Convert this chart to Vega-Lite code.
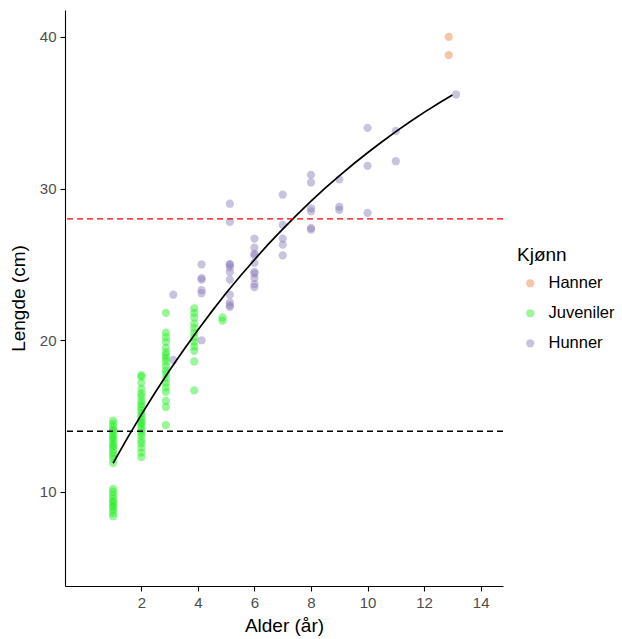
{
  "$schema": "https://vega.github.io/schema/vega-lite/v6.json",
  "width": 438,
  "height": 576,
  "autosize": {"type": "none"},
  "padding": {"left": 65, "top": 10, "right": 119, "bottom": 53},
  "background": "white",
  "config": {
    "view": {"stroke": null},
    "font": "Liberation Sans",
    "axis": {
      "grid": false,
      "domainColor": "#000000",
      "domainWidth": 1.1,
      "tickColor": "#000000",
      "tickWidth": 1.1,
      "tickSize": 5,
      "labelFont": "Liberation Sans",
      "labelFontSize": 15,
      "labelColor": "#4d4d4d",
      "labelPadding": 4,
      "titleFont": "Liberation Sans",
      "titleFontSize": 19,
      "titleFontWeight": "normal",
      "titleColor": "#000000"
    },
    "legend": {
      "titleFont": "Liberation Sans",
      "titleFontSize": 19,
      "titleFontWeight": "normal",
      "titleColor": "#000000",
      "labelFont": "Liberation Sans",
      "labelFontSize": 16,
      "labelColor": "#000000"
    }
  },
  "datasets": {
    "fisk": [
      {"alder": 12.87, "lengde": 40.0, "kjonn": "Hanner"},
      {"alder": 12.87, "lengde": 38.8, "kjonn": "Hanner"},
      {"alder": 3.13, "lengde": 23.0, "kjonn": "Hunner"},
      {"alder": 3.13, "lengde": 18.7, "kjonn": "Hunner"},
      {"alder": 4.13, "lengde": 25.0, "kjonn": "Hunner"},
      {"alder": 4.13, "lengde": 24.1, "kjonn": "Hunner"},
      {"alder": 4.13, "lengde": 24.0, "kjonn": "Hunner"},
      {"alder": 4.13, "lengde": 23.3, "kjonn": "Hunner"},
      {"alder": 4.13, "lengde": 23.1, "kjonn": "Hunner"},
      {"alder": 4.13, "lengde": 20.0, "kjonn": "Hunner"},
      {"alder": 5.13, "lengde": 29.0, "kjonn": "Hunner"},
      {"alder": 5.13, "lengde": 27.8, "kjonn": "Hunner"},
      {"alder": 5.13, "lengde": 25.0, "kjonn": "Hunner"},
      {"alder": 5.13, "lengde": 25.0, "kjonn": "Hunner"},
      {"alder": 5.13, "lengde": 24.8, "kjonn": "Hunner"},
      {"alder": 5.13, "lengde": 24.5, "kjonn": "Hunner"},
      {"alder": 5.13, "lengde": 24.0, "kjonn": "Hunner"},
      {"alder": 5.13, "lengde": 23.0, "kjonn": "Hunner"},
      {"alder": 5.13, "lengde": 22.5, "kjonn": "Hunner"},
      {"alder": 5.13, "lengde": 22.3, "kjonn": "Hunner"},
      {"alder": 5.13, "lengde": 22.2, "kjonn": "Hunner"},
      {"alder": 6, "lengde": 26.7, "kjonn": "Hunner"},
      {"alder": 6, "lengde": 26.1, "kjonn": "Hunner"},
      {"alder": 6, "lengde": 25.7, "kjonn": "Hunner"},
      {"alder": 6, "lengde": 25.6, "kjonn": "Hunner"},
      {"alder": 6, "lengde": 25.1, "kjonn": "Hunner"},
      {"alder": 6, "lengde": 24.5, "kjonn": "Hunner"},
      {"alder": 6, "lengde": 24.4, "kjonn": "Hunner"},
      {"alder": 6, "lengde": 24.1, "kjonn": "Hunner"},
      {"alder": 6, "lengde": 23.7, "kjonn": "Hunner"},
      {"alder": 6, "lengde": 23.5, "kjonn": "Hunner"},
      {"alder": 7, "lengde": 29.6, "kjonn": "Hunner"},
      {"alder": 7, "lengde": 27.6, "kjonn": "Hunner"},
      {"alder": 7, "lengde": 26.7, "kjonn": "Hunner"},
      {"alder": 7, "lengde": 26.3, "kjonn": "Hunner"},
      {"alder": 7, "lengde": 25.6, "kjonn": "Hunner"},
      {"alder": 8, "lengde": 30.9, "kjonn": "Hunner"},
      {"alder": 8, "lengde": 30.4, "kjonn": "Hunner"},
      {"alder": 8, "lengde": 28.7, "kjonn": "Hunner"},
      {"alder": 8, "lengde": 28.5, "kjonn": "Hunner"},
      {"alder": 8, "lengde": 27.4, "kjonn": "Hunner"},
      {"alder": 8, "lengde": 27.3, "kjonn": "Hunner"},
      {"alder": 9, "lengde": 30.6, "kjonn": "Hunner"},
      {"alder": 9, "lengde": 28.8, "kjonn": "Hunner"},
      {"alder": 9, "lengde": 28.6, "kjonn": "Hunner"},
      {"alder": 10, "lengde": 34.0, "kjonn": "Hunner"},
      {"alder": 10, "lengde": 31.5, "kjonn": "Hunner"},
      {"alder": 10, "lengde": 28.4, "kjonn": "Hunner"},
      {"alder": 11, "lengde": 33.8, "kjonn": "Hunner"},
      {"alder": 11, "lengde": 31.8, "kjonn": "Hunner"},
      {"alder": 13.13, "lengde": 36.2, "kjonn": "Hunner"},
      {"alder": 1, "lengde": 14.7, "kjonn": "Juveniler"},
      {"alder": 1, "lengde": 14.5, "kjonn": "Juveniler"},
      {"alder": 1, "lengde": 14.3, "kjonn": "Juveniler"},
      {"alder": 1, "lengde": 14.1, "kjonn": "Juveniler"},
      {"alder": 1, "lengde": 14.0, "kjonn": "Juveniler"},
      {"alder": 1, "lengde": 13.8, "kjonn": "Juveniler"},
      {"alder": 1, "lengde": 13.6, "kjonn": "Juveniler"},
      {"alder": 1, "lengde": 13.5, "kjonn": "Juveniler"},
      {"alder": 1, "lengde": 13.3, "kjonn": "Juveniler"},
      {"alder": 1, "lengde": 13.1, "kjonn": "Juveniler"},
      {"alder": 1, "lengde": 13.0, "kjonn": "Juveniler"},
      {"alder": 1, "lengde": 12.8, "kjonn": "Juveniler"},
      {"alder": 1, "lengde": 12.6, "kjonn": "Juveniler"},
      {"alder": 1, "lengde": 12.4, "kjonn": "Juveniler"},
      {"alder": 1, "lengde": 12.2, "kjonn": "Juveniler"},
      {"alder": 1, "lengde": 11.9, "kjonn": "Juveniler"},
      {"alder": 1, "lengde": 10.2, "kjonn": "Juveniler"},
      {"alder": 1, "lengde": 10.0, "kjonn": "Juveniler"},
      {"alder": 1, "lengde": 9.8, "kjonn": "Juveniler"},
      {"alder": 1, "lengde": 9.6, "kjonn": "Juveniler"},
      {"alder": 1, "lengde": 9.4, "kjonn": "Juveniler"},
      {"alder": 1, "lengde": 9.3, "kjonn": "Juveniler"},
      {"alder": 1, "lengde": 9.1, "kjonn": "Juveniler"},
      {"alder": 1, "lengde": 9.0, "kjonn": "Juveniler"},
      {"alder": 1, "lengde": 8.8, "kjonn": "Juveniler"},
      {"alder": 1, "lengde": 8.6, "kjonn": "Juveniler"},
      {"alder": 1, "lengde": 8.4, "kjonn": "Juveniler"},
      {"alder": 2, "lengde": 17.7, "kjonn": "Juveniler"},
      {"alder": 2, "lengde": 17.6, "kjonn": "Juveniler"},
      {"alder": 2, "lengde": 17.2, "kjonn": "Juveniler"},
      {"alder": 2, "lengde": 16.8, "kjonn": "Juveniler"},
      {"alder": 2, "lengde": 16.5, "kjonn": "Juveniler"},
      {"alder": 2, "lengde": 16.3, "kjonn": "Juveniler"},
      {"alder": 2, "lengde": 16.0, "kjonn": "Juveniler"},
      {"alder": 2, "lengde": 15.8, "kjonn": "Juveniler"},
      {"alder": 2, "lengde": 15.6, "kjonn": "Juveniler"},
      {"alder": 2, "lengde": 15.4, "kjonn": "Juveniler"},
      {"alder": 2, "lengde": 15.2, "kjonn": "Juveniler"},
      {"alder": 2, "lengde": 15.0, "kjonn": "Juveniler"},
      {"alder": 2, "lengde": 14.8, "kjonn": "Juveniler"},
      {"alder": 2, "lengde": 14.6, "kjonn": "Juveniler"},
      {"alder": 2, "lengde": 14.5, "kjonn": "Juveniler"},
      {"alder": 2, "lengde": 14.3, "kjonn": "Juveniler"},
      {"alder": 2, "lengde": 14.1, "kjonn": "Juveniler"},
      {"alder": 2, "lengde": 13.9, "kjonn": "Juveniler"},
      {"alder": 2, "lengde": 13.7, "kjonn": "Juveniler"},
      {"alder": 2, "lengde": 13.4, "kjonn": "Juveniler"},
      {"alder": 2, "lengde": 13.2, "kjonn": "Juveniler"},
      {"alder": 2, "lengde": 12.9, "kjonn": "Juveniler"},
      {"alder": 2, "lengde": 12.6, "kjonn": "Juveniler"},
      {"alder": 2, "lengde": 12.3, "kjonn": "Juveniler"},
      {"alder": 2.87, "lengde": 21.8, "kjonn": "Juveniler"},
      {"alder": 2.87, "lengde": 20.5, "kjonn": "Juveniler"},
      {"alder": 2.87, "lengde": 20.2, "kjonn": "Juveniler"},
      {"alder": 2.87, "lengde": 19.9, "kjonn": "Juveniler"},
      {"alder": 2.87, "lengde": 19.5, "kjonn": "Juveniler"},
      {"alder": 2.87, "lengde": 19.2, "kjonn": "Juveniler"},
      {"alder": 2.87, "lengde": 19.0, "kjonn": "Juveniler"},
      {"alder": 2.87, "lengde": 18.8, "kjonn": "Juveniler"},
      {"alder": 2.87, "lengde": 18.6, "kjonn": "Juveniler"},
      {"alder": 2.87, "lengde": 18.3, "kjonn": "Juveniler"},
      {"alder": 2.87, "lengde": 18.0, "kjonn": "Juveniler"},
      {"alder": 2.87, "lengde": 17.8, "kjonn": "Juveniler"},
      {"alder": 2.87, "lengde": 17.5, "kjonn": "Juveniler"},
      {"alder": 2.87, "lengde": 17.2, "kjonn": "Juveniler"},
      {"alder": 2.87, "lengde": 16.9, "kjonn": "Juveniler"},
      {"alder": 2.87, "lengde": 16.6, "kjonn": "Juveniler"},
      {"alder": 2.87, "lengde": 16.0, "kjonn": "Juveniler"},
      {"alder": 2.87, "lengde": 15.6, "kjonn": "Juveniler"},
      {"alder": 2.87, "lengde": 14.4, "kjonn": "Juveniler"},
      {"alder": 3.87, "lengde": 22.1, "kjonn": "Juveniler"},
      {"alder": 3.87, "lengde": 21.8, "kjonn": "Juveniler"},
      {"alder": 3.87, "lengde": 21.5, "kjonn": "Juveniler"},
      {"alder": 3.87, "lengde": 21.1, "kjonn": "Juveniler"},
      {"alder": 3.87, "lengde": 20.8, "kjonn": "Juveniler"},
      {"alder": 3.87, "lengde": 20.5, "kjonn": "Juveniler"},
      {"alder": 3.87, "lengde": 20.2, "kjonn": "Juveniler"},
      {"alder": 3.87, "lengde": 19.9, "kjonn": "Juveniler"},
      {"alder": 3.87, "lengde": 19.6, "kjonn": "Juveniler"},
      {"alder": 3.87, "lengde": 19.3, "kjonn": "Juveniler"},
      {"alder": 3.87, "lengde": 18.6, "kjonn": "Juveniler"},
      {"alder": 3.87, "lengde": 16.7, "kjonn": "Juveniler"},
      {"alder": 4.87, "lengde": 21.5, "kjonn": "Juveniler"},
      {"alder": 4.87, "lengde": 21.3, "kjonn": "Juveniler"}
    ],
    "kurve": [
      {"alder": 1.0, "lengde": 11.89},
      {"alder": 1.5, "lengde": 13.53},
      {"alder": 2.0, "lengde": 15.1},
      {"alder": 2.5, "lengde": 16.59},
      {"alder": 3.0, "lengde": 18.02},
      {"alder": 3.5, "lengde": 19.38},
      {"alder": 4.0, "lengde": 20.68},
      {"alder": 4.5, "lengde": 21.92},
      {"alder": 5.0, "lengde": 23.11},
      {"alder": 5.5, "lengde": 24.24},
      {"alder": 6.0, "lengde": 25.31},
      {"alder": 6.5, "lengde": 26.35},
      {"alder": 7.0, "lengde": 27.33},
      {"alder": 7.5, "lengde": 28.27},
      {"alder": 8.0, "lengde": 29.17},
      {"alder": 8.5, "lengde": 30.02},
      {"alder": 9.0, "lengde": 30.84},
      {"alder": 9.5, "lengde": 31.62},
      {"alder": 10.0, "lengde": 32.36},
      {"alder": 10.5, "lengde": 33.07},
      {"alder": 11.0, "lengde": 33.75},
      {"alder": 11.5, "lengde": 34.4},
      {"alder": 12.0, "lengde": 35.02},
      {"alder": 12.5, "lengde": 35.61},
      {"alder": 13.0, "lengde": 36.17}
    ]
  },
  "layer": [
    {
      "data": {"name": "fisk"},
      "mark": {"type": "circle", "size": 68, "opacity": 0.45, "stroke": null},
      "encoding": {
        "x": {
          "field": "alder",
          "type": "quantitative",
          "scale": {"domain": [-0.7, 14.79], "nice": false, "zero": false},
          "axis": {"title": "Alder (år)", "values": [2, 4, 6, 8, 10, 12, 14], "titlePadding": 6}
        },
        "y": {
          "field": "lengde",
          "type": "quantitative",
          "scale": {"domain": [3.8, 41.77], "nice": false, "zero": false},
          "axis": {"title": "Lengde (cm)", "values": [10, 20, 30, 40], "titlePadding": 11}
        },
        "color": {
          "field": "kjonn",
          "type": "nominal",
          "scale": {"domain": ["Hanner", "Juveniler", "Hunner"], "range": ["#E8803A", "#1DEE1D", "#8A7AB8"]},
          "legend": {
            "title": "Kjønn",
            "orient": "none",
            "legendX": 452,
            "legendY": 236,
            "symbolType": "circle",
            "symbolSize": 68,
            "symbolOpacity": 0.45,
            "symbolStrokeWidth": 0,
            "symbolOffset": 5,
            "labelOffset": 10,
            "labelFontSize": 16.5,
            "rowPadding": 13,
            "titlePadding": 10
          }
        }
      }
    },
    {
      "data": {"name": "kurve"},
      "mark": {"type": "line", "color": "#000000", "strokeWidth": 1.7},
      "encoding": {
        "x": {"field": "alder", "type": "quantitative"},
        "y": {"field": "lengde", "type": "quantitative"}
      }
    },
    {
      "data": {"values": [{"lengde": 28}]},
      "mark": {"type": "rule", "color": "#FF0000", "strokeWidth": 1.4, "strokeDash": [6, 4]},
      "encoding": {"y": {"field": "lengde", "type": "quantitative"}}
    },
    {
      "data": {"values": [{"lengde": 14}]},
      "mark": {"type": "rule", "color": "#000000", "strokeWidth": 1.4, "strokeDash": [6, 4]},
      "encoding": {"y": {"field": "lengde", "type": "quantitative"}}
    }
  ]
}
